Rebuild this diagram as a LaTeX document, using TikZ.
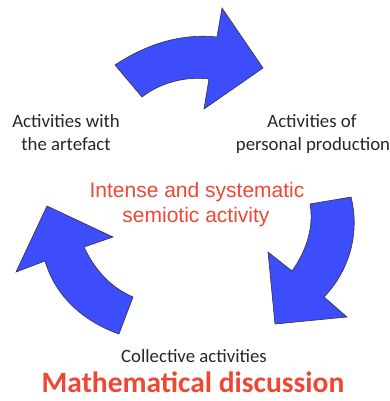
\documentclass[tikz,border=0pt]{standalone}
\usepackage{fontspec}
\setmainfont{Carlito}
\newfontfamily\arialf{Liberation Sans}
\definecolor{arrowblue}{RGB}{61,77,252}
\definecolor{redtxt}{RGB}{240,70,52}
\begin{document}
\begin{tikzpicture}[x=1pt,y=-1pt,
  bigarrow/.style={fill=arrowblue,draw=black!80,line width=0.6pt,line join=miter},
  blacklabel/.style={font=\fontsize{18.8}{22}\selectfont,text=black!85,inner sep=0pt,anchor=base},
  redlabel/.style={font=\arialf\fontsize{21}{25}\selectfont,text=redtxt,inner sep=0pt,anchor=base},
  titlelabel/.style={font=\bfseries\fontsize{29.5}{32}\selectfont,text=redtxt,inner sep=0pt,anchor=base}]
\useasboundingbox (0,0) rectangle (390,401);
% top arrow
\draw[bigarrow] (115,65) .. controls (145,45) and (180,33) .. (217,37)
  -- (222,8) -- (263,68) -- (204,109) -- (209,79)
  .. controls (185,76) and (160,83) .. (142,97) -- cycle;
% right arrow
\draw[bigarrow] (310,204) -- (351,197) .. controls (360,232) and (350,270) .. (324,297)
  -- (347,317) -- (275,324) -- (268,252) -- (292,271)
  .. controls (307,250) and (314,226) .. cycle;
% left arrow
\draw[bigarrow] (16,272) -- (47,206) -- (113,237) -- (84,247)
  .. controls (95,270) and (110,287) .. (133,297)
  -- (119,334) .. controls (85,322) and (56,298) .. (45,261) -- cycle;
% labels
\node[blacklabel] (artefact1) at (66,128) {Activities with};
\node[blacklabel] (artefact2) at (66,150) {the artefact};
\node[blacklabel] (personal1) at (312,128) {Activities of};
\node[blacklabel] (personal2) at (313,150) {personal production};
\node[redlabel] (semiotic1) at (197,197) {Intense and systematic};
\node[redlabel] (semiotic2) at (196,222) {semiotic activity};
\node[blacklabel] (collective) at (194,362) {Collective activities};
\node[titlelabel] (math) at (193,392) {Mathematical discussion};
\end{tikzpicture}
\end{document}
